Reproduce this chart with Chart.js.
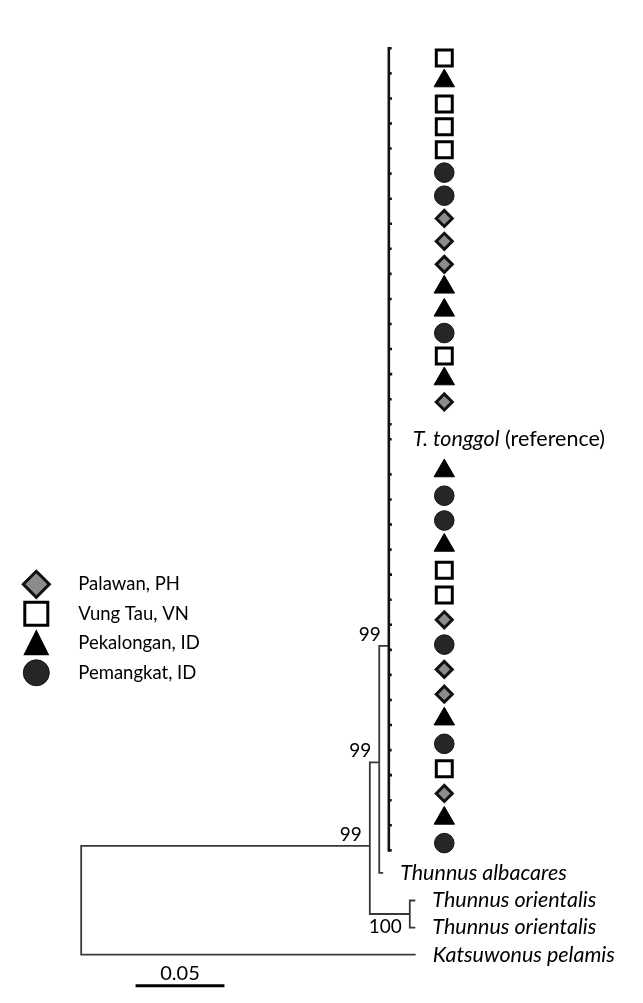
<!DOCTYPE html>
<html>
<head>
<meta charset="utf-8">
<script src="https://cdn.jsdelivr.net/npm/chart.js@4.4.1/dist/chart.umd.min.js"></script>
<style>
  html, body { margin: 0; padding: 0; background: #ffffff; }
  #wrap { position: relative; width: 643px; height: 1003px; }
</style>
</head>
<body>
<div id="wrap"><canvas id="c"></canvas></div>
<script>
// ---------------- DATA ----------------
const populations = ['Palawan, PH', 'Vung Tau, VN', 'Pekalongan, ID', 'Pemangkat, ID'];

// sampled T. tonggol haplotypes, top to bottom: site index into populations
const sampleSite = [1, 2, 1, 1, 1, 3, 3, 0, 0, 0, 2, 2, 3, 1, 2, 0,
                    2, 3, 3, 2, 1, 1, 0, 3, 0, 0, 2, 3, 1, 0, 2, 3];
// row of each population symbol (vertical position, in tree rows)
const symbolRow = [0.39, 1.30, 2.22, 3.13, 4.05, 4.96, 5.88, 6.79, 7.70, 8.62, 9.53, 10.45, 11.36, 12.28, 13.19, 14.11,
                   16.86, 17.85, 18.84, 19.83, 20.82, 21.81, 22.80, 23.79, 24.78, 25.77, 26.76, 27.75, 28.74, 29.73, 30.72, 31.71];
// tree tip row and distance from root of each sampled haplotype
const tipRow = [0, 1, 2, 3, 4, 5, 6, 7, 8, 9, 10, 11, 12, 13, 14, 15,
                17, 18, 19, 20, 21, 22, 23, 24, 25, 26, 27, 28, 29, 30, 31, 32];
const tipDepth = [0.1747, 0.1747, 0.1749, 0.1749, 0.1747, 0.1747, 0.1748, 0.1749, 0.1747, 0.1747, 0.1747, 0.1747, 0.1749, 0.1750, 0.1747, 0.1747,
                  0.1747, 0.1747, 0.1749, 0.1747, 0.1749, 0.1747, 0.1749, 0.1748, 0.1747, 0.1748, 0.1749, 0.1747, 0.1749, 0.1747, 0.1748, 0.1747];

// internal nodes
const nodeIds    = ['A', 'B', 'C', 'O'];
const nodeParent = ['root', 'A', 'B', 'A'];
const nodeDepth  = [0.1624, 0.1677, 0.1731, 0.1849];
const nodeRow    = [31.82, 28.49, 23.84, 34.54];
const bootstrap  = [99, 99, 99, 100];

// reference sequences
const refTaxa   = ['T. tonggol', 'Thunnus albacares', 'Thunnus orientalis', 'Thunnus orientalis', 'Katsuwonus pelamis'];
const refParent = ['C', 'B', 'O', 'O', 'root'];
const refDepth  = [0.1747, 0.1699, 0.1880, 0.1880, 0.1882];
const refRow    = [15.6, 32.9, 34.0, 35.08, 36.16];

const scaleBarLength = 0.05;

// ---------------- layout constants ----------------
const markerColumn = 0.2043;     // x (distance units) of the population symbol column
const scaleBarStart = 0.0306;
const scaleBarRow = 37.40;
const FONT = 'Lato, "Open Sans", "Liberation Sans", sans-serif';

// ---------------- build tree line data ----------------
function nodePos(id) {
  if (id === 'root') {
    const a = nodeRow[nodeIds.indexOf('A')];
    const k = refRow[refTaxa.length - 1];
    return { x: 0, y: (a + k) / 2 };
  }
  const i = nodeIds.indexOf(id);
  return { x: nodeDepth[i], y: nodeRow[i] };
}
function addEdge(arr, parentId, cx, cy) {
  const p = nodePos(parentId);
  arr.push({ x: p.x, y: p.y }, { x: p.x, y: cy }, { x: cx, y: cy }, { x: NaN, y: NaN });
}
const backbone = [];
nodeIds.forEach((id, i) => addEdge(backbone, nodeParent[i], nodeDepth[i], nodeRow[i]));
refTaxa.forEach((t, i) => { if (refParent[i] !== 'C') addEdge(backbone, refParent[i], refDepth[i], refRow[i]); });

const tonggolClade = [];
tipRow.forEach((r, i) => addEdge(tonggolClade, 'C', tipDepth[i], r));
refTaxa.forEach((t, i) => { if (refParent[i] === 'C') addEdge(tonggolClade, 'C', refDepth[i], refRow[i]); });

const markerStyles  = ['rectRot', 'rect', 'triangle', 'circle'];
const markerRadius  = [8, 11.3, 11.8, 9.8];
const markerFill    = ['#8c8c8c', '#ffffff', '#000000', '#262626'];
const markerBorder  = ['#111111', '#000000', '#000000', '#111111'];
const markerBorderW = [3, 3, 1, 1];

const markerSets = populations.map((p, k) => ({
  label: p,
  data: symbolRow.filter((r, i) => sampleSite[i] === k).map(r => ({ x: markerColumn, y: r })),
  showLine: false,
  pointStyle: markerStyles[k],
  pointRadius: markerRadius[k],
  pointHoverRadius: markerRadius[k],
  pointBackgroundColor: markerFill[k],
  pointBorderColor: markerBorder[k],
  pointBorderWidth: markerBorderW[k],
  order: 0
}));

// ---------------- label / legend plugin ----------------
function drawShape(ctx, k, x, y, s) {
  ctx.save();
  ctx.beginPath();
  if (k === 0) {
    ctx.moveTo(x, y - s); ctx.lineTo(x + s, y); ctx.lineTo(x, y + s); ctx.lineTo(x - s, y); ctx.closePath();
    ctx.fillStyle = '#8c8c8c'; ctx.fill(); ctx.lineWidth = 3; ctx.strokeStyle = '#111'; ctx.stroke();
  } else if (k === 1) {
    ctx.rect(x - s, y - s, 2 * s, 2 * s);
    ctx.fillStyle = '#fff'; ctx.fill(); ctx.lineWidth = 3; ctx.strokeStyle = '#000'; ctx.stroke();
  } else if (k === 2) {
    ctx.moveTo(x, y - s); ctx.lineTo(x + s, y + s); ctx.lineTo(x - s, y + s); ctx.closePath();
    ctx.fillStyle = '#000'; ctx.fill();
  } else {
    ctx.arc(x, y, s, 0, Math.PI * 2);
    ctx.fillStyle = '#262626'; ctx.fill(); ctx.lineWidth = 1; ctx.strokeStyle = '#111'; ctx.stroke();
  }
  ctx.restore();
}

const treeText = {
  id: 'treeText',
  afterDatasetsDraw(chart) {
    const { ctx } = chart;
    const xs = chart.scales.x, ys = chart.scales.y;
    ctx.save();
    ctx.fillStyle = '#000';

    // taxon labels
    ctx.textBaseline = 'middle';
    ctx.textAlign = 'left';
    refTaxa.forEach((t, i) => {
      const px = xs.getPixelForValue(refDepth[i]) + (refParent[i] === 'C' ? 21 : 17);
      const py = ys.getPixelForValue(refRow[i]);
      ctx.font = 'italic 21.5px ' + FONT;
      ctx.fillText(t, px, py);
      if (refParent[i] === 'C') {
        const w = ctx.measureText(t).width;
        ctx.font = '21.5px ' + FONT;
        ctx.fillText(' (reference)', px + w, py);
      }
    });

    // bootstrap values
    ctx.font = '19px ' + FONT;
    ctx.textAlign = 'right';
    ctx.textBaseline = 'alphabetic';
    nodeIds.forEach((id, i) => {
      const px = xs.getPixelForValue(nodeDepth[i]) - 8;
      const py = ys.getPixelForValue(nodeRow[i]);
      const below = bootstrap[i] === 100;
      ctx.fillText(String(bootstrap[i]), px, below ? py + 19 : py - 5);
    });

    // scale bar
    const x0 = xs.getPixelForValue(scaleBarStart);
    const x1 = xs.getPixelForValue(scaleBarStart + scaleBarLength);
    const yb = ys.getPixelForValue(scaleBarRow);
    ctx.lineWidth = 3;
    ctx.strokeStyle = '#000';
    ctx.beginPath(); ctx.moveTo(x0, yb); ctx.lineTo(x1, yb); ctx.stroke();
    ctx.font = '20px ' + FONT;
    ctx.textAlign = 'center';
    ctx.fillText(String(scaleBarLength), (x0 + x1) / 2, yb - 6);

    // legend
    const legTop = chart.chartArea.top + 570, legStep = 29.5;
    const legSize = [13, 11.5, 13, 13];
    ctx.font = '18.5px ' + FONT;
    ctx.textAlign = 'left';
    ctx.textBaseline = 'middle';
    populations.forEach((p, k) => {
      const cy = legTop + k * legStep;
      drawShape(ctx, k, chart.chartArea.left + 22, cy + (k === 2 ? -1 : 0), legSize[k]);
      ctx.fillStyle = '#000';
      ctx.fillText(p, chart.chartArea.left + 64, cy);
    });
    ctx.restore();
  }
};

// ---------------- chart ----------------
new Chart(document.getElementById('c'), {
  type: 'scatter',
  data: {
    datasets: [
      { label: 'tree', data: backbone, showLine: true, borderColor: '#383838', borderWidth: 1.8,
        pointRadius: 0, pointHoverRadius: 0, spanGaps: false, order: 2 },
      { label: 'T. tonggol clade', data: tonggolClade, showLine: true, borderColor: '#111111', borderWidth: 2.6,
        pointRadius: 0, pointHoverRadius: 0, spanGaps: false, order: 1 },
      ...markerSets
    ]
  },
  options: {
    responsive: true,
    maintainAspectRatio: false,
    animation: false,
    layout: { padding: 0 },
    plugins: { legend: { display: false }, tooltip: { enabled: false } },
    scales: {
      x: { type: 'linear', display: false, min: -70 / 1860, max: 573 / 1860 },
      y: { type: 'linear', display: false, reverse: true, min: -35 / 25.8, max: 968 / 25.8 }
    }
  },
  plugins: [treeText]
});
</script>
</body>
</html>
